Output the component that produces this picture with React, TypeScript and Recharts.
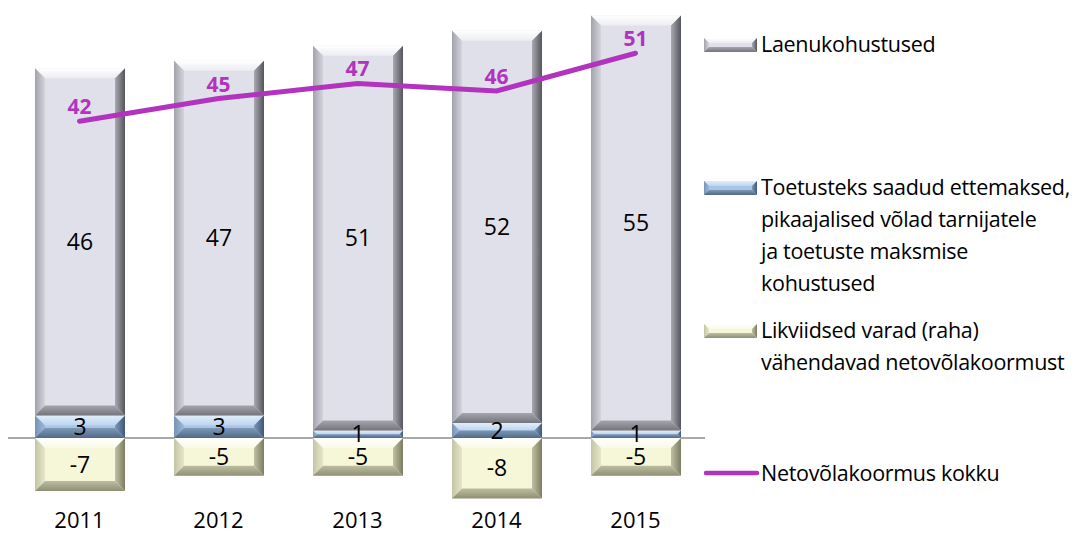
import React from "react";
import {
  ComposedChart,
  Bar,
  Line,
  XAxis,
  YAxis,
  LabelList,
} from "recharts";

const years = ["2011", "2012", "2013", "2014", "2015"];
const loans = [46, 47, 51, 52, 55];
const grants = [3, 3, 1, 2, 1];
const cash = [-7, -5, -5, -8, -5];
const netDebt = [42, 45, 47, 46, 51];

const legendLoans = ["Laenukohustused"];
const legendGrants = [
  "Toetusteks saadud ettemaksed,",
  "pikaajalised võlad tarnijatele",
  "ja toetuste maksmise",
  "kohustused",
];
const legendCash = ["Likviidsed varad (raha)", "vähendavad netovõlakoormust"];
const legendNet = ["Netovõlakoormus kokku"];

const data = years.map((year, i) => ({
  year,
  loans: loans[i],
  grants: grants[i],
  cash: cash[i],
  net: netDebt[i],
}));

const FONT = "'Open Sans', Lato, sans-serif";
const PURPLE = "#b133be";

type Palette = { id: string; face: string; top: [string, string]; left: [string, string]; right: [string, string]; bottom: [string, string] };

// each bevel side: [outer colour, inner colour]
const greyP: Palette = {
  id: "g",
  face: "#e0e0ea",
  top: ["#ffffff", "#ececf3"],
  left: ["#a2a2ab", "#d4d4dd"],
  right: ["#55555d", "#a9a9b2"],
  bottom: ["#74747c", "#a5a5ae"],
};
const blueP: Palette = {
  id: "b",
  face: "#a9c5e6",
  top: ["#e2eefb", "#bcd4ef"],
  left: ["#7893b3", "#9cb8d8"],
  right: ["#3f5877", "#7c98b8"],
  bottom: ["#4f6987", "#7d98b6"],
};
const yellowP: Palette = {
  id: "y",
  face: "#f6f6d8",
  top: ["#ffffff", "#fafae6"],
  left: ["#c4c4a6", "#e6e6ca"],
  right: ["#7d7d63", "#c0c0a2"],
  bottom: ["#8f8f75", "#bdbda0"],
};

const Grad = ({ id, c, dir }: { id: string; c: [string, string]; dir: "t" | "b" | "l" | "r" }) => {
  const v = {
    t: { x1: 0, y1: 0, x2: 0, y2: 1 },
    b: { x1: 0, y1: 1, x2: 0, y2: 0 },
    l: { x1: 0, y1: 0, x2: 1, y2: 0 },
    r: { x1: 1, y1: 0, x2: 0, y2: 0 },
  }[dir];
  return (
    <linearGradient id={id} {...v}>
      <stop offset="0%" stopColor={c[0]} />
      <stop offset="100%" stopColor={c[1]} />
    </linearGradient>
  );
};

const PaletteDefs = ({ p }: { p: Palette }) => (
  <>
    <Grad id={`${p.id}-t`} c={p.top} dir="t" />
    <Grad id={`${p.id}-b`} c={p.bottom} dir="b" />
    <Grad id={`${p.id}-l`} c={p.left} dir="l" />
    <Grad id={`${p.id}-r`} c={p.right} dir="r" />
  </>
);

const bevelRect = (x: number, y: number, w: number, h: number, p: Palette, maxB = 10) => {
  if (h < 0) {
    y += h;
    h = -h;
  }
  const b = Math.min(maxB, h / 2, w / 2);
  return (
    <g>
      <rect x={x} y={y} width={w} height={h} fill={p.face} />
      <polygon points={`${x},${y} ${x + w},${y} ${x + w - b},${y + b} ${x + b},${y + b}`} fill={`url(#${p.id}-t)`} />
      <polygon points={`${x},${y} ${x + b},${y + b} ${x + b},${y + h - b} ${x},${y + h}`} fill={`url(#${p.id}-l)`} />
      <polygon points={`${x + w},${y} ${x + w},${y + h} ${x + w - b},${y + h - b} ${x + w - b},${y + b}`} fill={`url(#${p.id}-r)`} />
      <polygon points={`${x},${y + h} ${x + b},${y + h - b} ${x + w - b},${y + h - b} ${x + w},${y + h}`} fill={`url(#${p.id}-b)`} />
    </g>
  );
};

const makeShape = (p: Palette) => (props: any) => {
  const { x, y, width, height } = props;
  if (width == null || height == null) return null;
  return bevelRect(x, y, width, height, p);
};

const Swatch = ({ p }: { p: Palette }) => (
  <svg width={54} height={14} style={{ position: "absolute", left: 0, top: 10 }}>
    {bevelRect(0, 0, 53, 14, p, 5)}
  </svg>
);

const LegendItem = ({ top, lines, swatch }: { top: number; lines: string[]; swatch: React.ReactNode }) => (
  <div style={{ position: "absolute", left: 704, top, width: 374 }}>
    {swatch}
    <div style={{ marginLeft: 57, fontFamily: FONT, fontSize: 21.5, lineHeight: "32px", color: "#000", whiteSpace: "nowrap", letterSpacing: -0.3 }}>
      {lines.map((l) => (
        <div key={l}>{l}</div>
      ))}
    </div>
  </div>
);

const App = () => {
  return (
    <div style={{ position: "absolute", left: 0, top: 0, width: 1078, height: 533, background: "#fff", overflow: "hidden" }}>
      <svg width={0} height={0} style={{ position: "absolute" }}>
        <defs>
          <PaletteDefs p={greyP} />
          <PaletteDefs p={blueP} />
          <PaletteDefs p={yellowP} />
        </defs>
      </svg>
      <svg width={1078} height={533} style={{ position: "absolute", left: 0, top: 0 }}>
        <line x1={8} x2={705} y1={438} y2={438} stroke="#8c8c8c" strokeWidth={1.5} />
      </svg>
      <div style={{ position: "absolute", left: 0, top: 0 }}>
        <ComposedChart
          width={1078}
          height={533}
          data={data}
          stackOffset="sign"
          margin={{ top: 8, right: 373, left: 10, bottom: 0 }}
        >
          <XAxis
            dataKey="year"
            axisLine={false}
            tickLine={false}
            height={27}
            tickMargin={0}
            tick={{ fontSize: 22, fill: "#000", fontFamily: FONT }}
          />
          <YAxis hide type="number" domain={[-9, 57]} allowDataOverflow />
          <Bar dataKey="grants" stackId="a" barSize={90} shape={makeShape(blueP)} isAnimationActive={false}>
            <LabelList dataKey="grants" position="center" fill="#000" fontSize={23} fontFamily={FONT} />
          </Bar>
          <Bar dataKey="loans" stackId="a" barSize={90} shape={makeShape(greyP)} isAnimationActive={false}>
            <LabelList dataKey="loans" position="center" fill="#000" fontSize={23} fontFamily={FONT} />
          </Bar>
          <Bar dataKey="cash" stackId="a" barSize={90} shape={makeShape(yellowP)} isAnimationActive={false}>
            <LabelList dataKey="cash" position="center" fill="#000" fontSize={23} fontFamily={FONT} />
          </Bar>
          <Line
            dataKey="net"
            type="linear"
            stroke={PURPLE}
            strokeWidth={5}
            strokeLinecap="round"
            dot={false}
            activeDot={false}
            isAnimationActive={false}
          >
            <LabelList dataKey="net" position="top" offset={7} fill={PURPLE} fontSize={21} fontWeight="bold" fontFamily={FONT} />
          </Line>
        </ComposedChart>
      </div>
      <LegendItem top={28} lines={legendLoans} swatch={<Swatch p={greyP} />} />
      <LegendItem top={171} lines={legendGrants} swatch={<Swatch p={blueP} />} />
      <LegendItem top={314} lines={legendCash} swatch={<Swatch p={yellowP} />} />
      <LegendItem
        top={457}
        lines={legendNet}
        swatch={
          <svg width={56} height={14} style={{ position: "absolute", left: 0, top: 9 }}>
            <line x1={2} x2={53} y1={7} y2={7} stroke={PURPLE} strokeWidth={4.5} strokeLinecap="round" />
          </svg>
        }
      />
    </div>
  );
};

export default App;
